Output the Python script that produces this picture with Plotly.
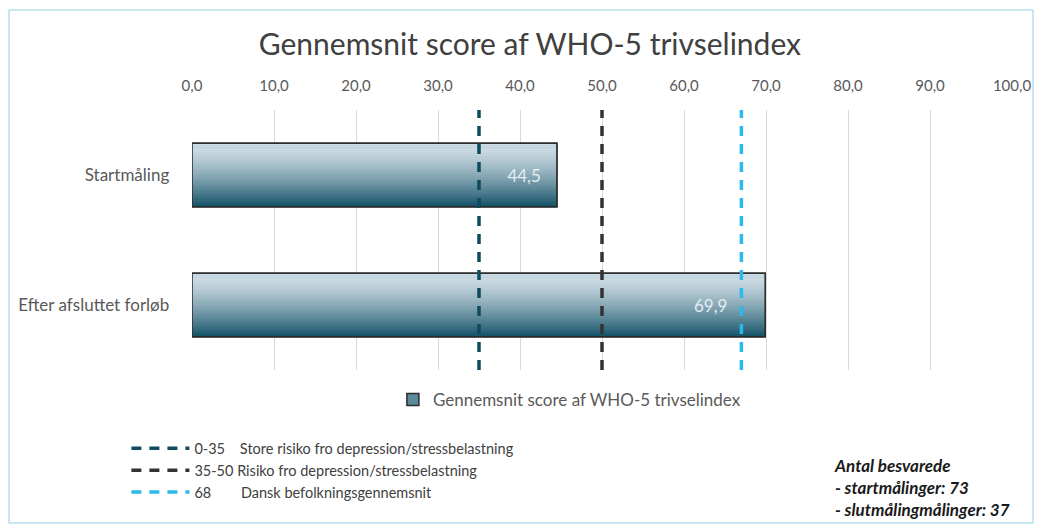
import plotly.graph_objects as go

categories = ["Startmåling", "Efter afsluttet forløb"]
scores = [44.5, 69.9]
series_name = "Gennemsnit score af WHO-5 trivselindex"

ref_values = [35, 50, 67]
ref_labels = [
    "0-35\u00a0\u00a0\u00a0\u00a0Store risiko fro depression/stressbelastning",
    "35-50 Risiko fro depression/stressbelastning",
    "68\u00a0\u00a0\u00a0\u00a0\u00a0\u00a0\u00a0\u00a0Dansk befolkningsgennemsnit",
]
ref_colors = ["#0f4a5f", "#333333", "#2bb8ea"]

tick_vals = [0, 10, 20, 30, 40, 50, 60, 70, 80, 90, 100]

FONT = "Lato, Liberation Sans, sans-serif"

fig = go.Figure()

# legend bar (mid colour with border), drawn first
fig.add_trace(go.Bar(
    y=categories, x=scores, orientation="h", width=0.49,
    marker=dict(color="#5a8a9c", line=dict(color="#2b2b2b", width=1.5)),
    name=series_name, legend="legend", hoverinfo="skip",
))

# gradient slices
N = 32
total_w = 0.49
w = total_w / N
top = (208, 222, 230)
bot = (22, 84, 106)
for i in range(N):
    t = i / (N - 1)
    t2 = t ** 1.4
    c = tuple(int(round(top[k] + (bot[k] - top[k]) * t2)) for k in range(3))
    fig.add_trace(go.Bar(
        y=categories, x=scores, orientation="h",
        width=w * 1.15, offset=-total_w / 2 + i * w,
        marker=dict(color="rgb(%d,%d,%d)" % c, line=dict(width=0)),
        showlegend=False, hoverinfo="skip",
    ))

# outline + labels on top
fig.add_trace(go.Bar(
    y=categories, x=scores, orientation="h", width=0.49,
    marker=dict(color="rgba(0,0,0,0)", line=dict(color="#2b2b2b", width=1.5)),
    texttemplate=["%{x:.1f}\u00a0\u00a0\u00a0",
                  "%{x:.1f}\u00a0\u00a0\u00a0\u00a0\u00a0\u00a0\u00a0\u00a0"],
    textposition="inside", insidetextanchor="end",
    textfont=dict(color="#e3edf1", size=17, family=FONT),
    showlegend=False, hoverinfo="skip", cliponaxis=False,
))

for v, lab, col in zip(ref_values, ref_labels, ref_colors):
    fig.add_trace(go.Scatter(
        x=[v, v], y=[0, 1], yaxis="y2", mode="lines",
        line=dict(color=col, width=3.5, dash="10px,8px"),
        name=lab, legend="legend2", hoverinfo="skip",
    ))

fig.update_layout(
    width=1039, height=529,
    margin=dict(l=192, r=27, t=110, b=159, autoexpand=False),
    paper_bgcolor="white", plot_bgcolor="white",
    separators=",.",
    barmode="overlay",
    font=dict(family=FONT, color="#595959"),
    title=dict(text="Gennemsnit score af WHO-5 trivselindex",
               x=0.51, xanchor="center", y=0.915, yanchor="middle",
               font=dict(size=30, color="#404040", family=FONT)),
    xaxis=dict(range=[0, 100], side="top", tickvals=tick_vals,
               tickformat=".1f", showgrid=True, gridcolor="#d9d9d9",
               gridwidth=1, zeroline=False, showline=False,
               tickfont=dict(size=15, color="#595959"), ticks="",
               ticklabelstandoff=15, automargin=False),
    yaxis=dict(categoryorder="array", categoryarray=categories,
               range=[1.5, -0.5], showgrid=False, zeroline=False,
               showline=False, ticks="", automargin=False,
               ticksuffix="\u00a0\u00a0\u00a0\u00a0\u00a0",
               tickfont=dict(size=17, color="#595959")),
    yaxis2=dict(overlaying="y", range=[0, 1], visible=False, automargin=False),
    legend=dict(x=0.245, xanchor="left", y=-0.115, yanchor="middle",
                orientation="h", font=dict(size=17, color="#595959"),
                itemwidth=30, bgcolor="rgba(0,0,0,0)"),
    legend2=dict(x=-0.08, xanchor="left", y=-0.24, yanchor="top",
                 orientation="v", font=dict(size=14.5, color="#404040"),
                 itemwidth=58, tracegroupgap=0, bgcolor="rgba(0,0,0,0)"),
    shapes=[dict(type="rect", xref="paper", yref="paper",
                 x0=(9 - 192) / 820, x1=(1033 - 192) / 820,
                 y0=(370 - 523) / 260, y1=(370 - 10) / 260,
                 line=dict(color="#8fd0e6", width=1),
                 fillcolor="rgba(0,0,0,0)", layer="below")],
    annotations=[dict(
        text="<b><i>Antal besvarede<br>- startmålinger: 73<br>- slutmålingmålinger: 37</i></b>",
        xref="paper", yref="paper", x=(832 - 192) / 820, y=(370 - 453) / 260,
        xanchor="left", yanchor="top", align="left", showarrow=False,
        font=dict(size=17, color="#1a1a1a", family=FONT))],
)

fig.write_html("out.html", config={"displayModeBar": False},
               post_script="document.body.style.margin='0';document.body.style.padding='0';")
